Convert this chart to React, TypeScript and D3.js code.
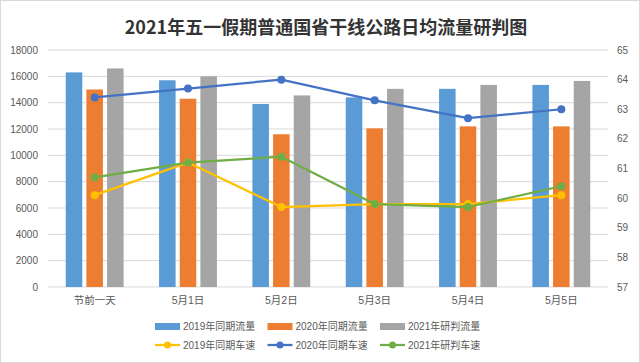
import React from 'react';
import * as d3 from 'd3';

const categories = ['节前一天', '5月1日', '5月2日', '5月3日', '5月4日', '5月5日'];

const flow2019 = [16300, 15700, 13900, 14400, 15050, 15350];
const flow2020 = [15000, 14300, 11600, 12050, 12200, 12200];
const flow2021 = [16600, 16000, 14550, 15050, 15350, 15650];

const speed2019 = [60.1, 61.2, 59.7, 59.8, 59.8, 60.1];
const speed2020 = [63.4, 63.7, 64.0, 63.3, 62.7, 63.0];
const speed2021 = [60.7, 61.2, 61.4, 59.8, 59.7, 60.4];

const leftTicks = [0, 2000, 4000, 6000, 8000, 10000, 12000, 14000, 16000, 18000];
const rightTicks = [57, 58, 59, 60, 61, 62, 63, 64, 65];

const barSeries = [
  { name: '2019年同期流量', values: flow2019, color: '#5B9BD5' },
  { name: '2020年同期流量', values: flow2020, color: '#ED7D31' },
  { name: '2021年研判流量', values: flow2021, color: '#A5A5A5' },
];
const lineSeries = [
  { name: '2019年同期车速', values: speed2019, color: '#FFC000' },
  { name: '2020年同期车速', values: speed2020, color: '#4472C4' },
  { name: '2021年研判车速', values: speed2021, color: '#70AD47' },
];

const W = 640;
const H = 363;
const margin = { top: 50, right: 32, bottom: 76, left: 48 };
const font = '"Liberation Sans", "Noto Sans CJK SC", sans-serif';

export default function App() {
  const x0 = d3.scaleBand<string>().domain(categories).range([margin.left, W - margin.right]);
  const bw = x0.bandwidth();
  const x1 = d3.scaleBand<string>().domain(barSeries.map(s => s.name))
    .range([bw * 0.19, bw * 0.81]).paddingInner(0.2);
  const yL = d3.scaleLinear().domain([0, 18000]).range([H - margin.bottom, margin.top]);
  const yR = d3.scaleLinear().domain([57, 65]).range([H - margin.bottom, margin.top]);

  const line = d3.line<number>()
    .x((_, i) => (x0(categories[i]) as number) + bw / 2)
    .y(d => yR(d));

  const legendX = [155, 267.5, 380];

  return (
    <div style={{ position: 'absolute', left: 0, top: 0 }}>
      <svg width={W} height={H} style={{ display: 'block' }}>
        <rect x={0.5} y={0.5} width={W - 1} height={H - 1} fill="#fff" stroke="#D9D9D9" />
        <text x={W / 2 + 6} y={34} textAnchor="middle" fontSize={18} fontWeight="bold"
          fill="#333" fontFamily='"Noto Sans CJK SC", sans-serif'>
          2021年五一假期普通国省干线公路日均流量研判图
        </text>

        {/* grid */}
        {leftTicks.map(t => (
          <line key={t} x1={margin.left} x2={W - margin.right} y1={yL(t)} y2={yL(t)}
            stroke="#D9D9D9" strokeWidth={1} />
        ))}

        {/* left axis */}
        {leftTicks.map(t => (
          <text key={'l' + t} x={38} y={yL(t) + 3.5} textAnchor="end" fontSize={10}
            fill="#595959" fontFamily={font}>{t}</text>
        ))}
        {/* right axis */}
        {rightTicks.map(t => (
          <text key={'r' + t} x={617} y={yR(t) + 3.5} textAnchor="start" fontSize={10}
            fill="#595959" fontFamily={font}>{t}</text>
        ))}

        {/* bars */}
        {barSeries.map(s => (
          <g key={s.name}>
            {s.values.map((v, i) => (
              <rect key={i}
                x={(x0(categories[i]) as number) + (x1(s.name) as number)}
                y={yL(v)} width={x1.bandwidth()} height={yL(0) - yL(v)}
                fill={s.color} />
            ))}
          </g>
        ))}

        {/* category labels */}
        {categories.map(c => (
          <text key={c} x={(x0(c) as number) + bw / 2} y={304} textAnchor="middle"
            fontSize={10.5} fill="#595959" fontFamily={font}>{c}</text>
        ))}

        {/* lines */}
        {lineSeries.map(s => (
          <g key={s.name}>
            <path d={line(s.values) || ''} fill="none" stroke={s.color} strokeWidth={2.25}
              strokeLinejoin="round" />
            {s.values.map((v, i) => (
              <circle key={i} cx={(x0(categories[i]) as number) + bw / 2} cy={yR(v)} r={4}
                fill={s.color} />
            ))}
          </g>
        ))}

        {/* legend */}
        {barSeries.map((s, i) => (
          <g key={'lb' + s.name}>
            <rect x={legendX[i]} y={323} width={25} height={7} fill={s.color} />
            <text x={legendX[i] + 28} y={330} fontSize={10} fill="#595959" fontFamily={font}>{s.name}</text>
          </g>
        ))}
        {lineSeries.map((s, i) => (
          <g key={'ll' + s.name}>
            <line x1={legendX[i]} x2={legendX[i] + 25} y1={345} y2={345} stroke={s.color} strokeWidth={2.25} />
            <circle cx={legendX[i] + 12.5} cy={345} r={3.5} fill={s.color} />
            <text x={legendX[i] + 28} y={349} fontSize={10} fill="#595959" fontFamily={font}>{s.name}</text>
          </g>
        ))}
      </svg>
    </div>
  );
}
